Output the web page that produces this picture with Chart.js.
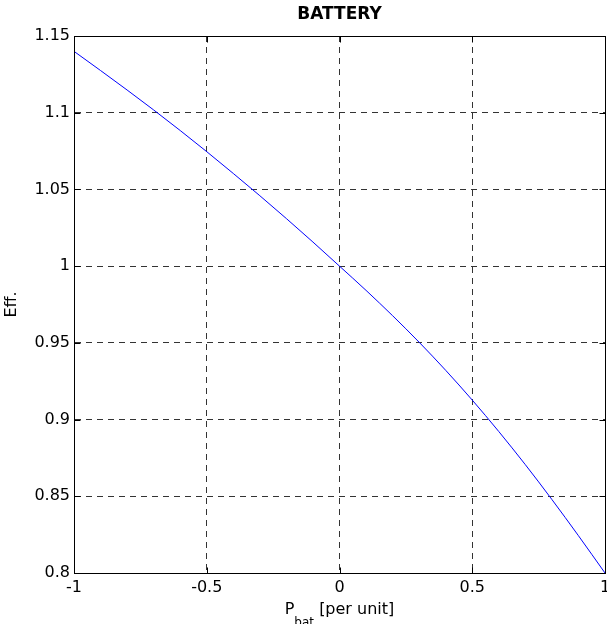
<!doctype html>
<html lang="en">
<head>
<meta charset="utf-8" />
<title>BATTERY</title>
<script src="https://cdn.jsdelivr.net/npm/chart.js@4"></script>
<style>
  html, body { margin: 0; padding: 0; background: #fff; }
</style>
</head>
<body>
<canvas id="chart" width="607" height="624"></canvas>
<script>
// values
const pBat = [-1, -0.9, -0.8, -0.7, -0.6, -0.5, -0.4, -0.3, -0.2, -0.1, 0,
              0.1, 0.2, 0.3, 0.4, 0.5, 0.6, 0.7, 0.8, 0.9, 1];
const eff = [1.1400, 1.1275, 1.1148, 1.1018, 1.0884, 1.0746, 1.0604, 1.0459, 1.0310, 1.0157, 1.0000,
             0.9842, 0.9677, 0.9504, 0.9321, 0.9127, 0.8922, 0.8706, 0.8479, 0.8243, 0.8000];

const xTicks = [-1, -0.5, 0, 0.5, 1];
const xTickLabels = ["-1", "-0.5", "0", "0.5", "1"];
const yTicks = [0.8, 0.85, 0.9, 0.95, 1, 1.05, 1.1, 1.15];
const yTickLabels = ["0.8", "0.85", "0.9", "0.95", "1", "1.05", "1.1", "1.15"];

const FONT = "'DejaVu Sans', sans-serif";

// top/right box edges and MATLAB-style inward tick marks
const frame = {
  id: "frame",
  afterDatasetsDraw(chart) {
    const { ctx, chartArea: a, scales: { x, y } } = chart;
    const L = Math.round(a.left) + 0.5, R = Math.round(a.right) + 0.5;
    const T = Math.round(a.top) + 0.5, B = Math.round(a.bottom) + 0.5;
    ctx.save();
    ctx.strokeStyle = "#000";
    ctx.lineWidth = 1;
    ctx.setLineDash([]);
    ctx.beginPath();
    ctx.moveTo(L, B); ctx.lineTo(L, T); ctx.lineTo(R, T); ctx.lineTo(R, B); ctx.lineTo(L, B);
    for (const v of xTicks) {
      const px = Math.round(x.getPixelForValue(v)) + 0.5;
      ctx.moveTo(px, B); ctx.lineTo(px, B - 6);
      ctx.moveTo(px, T); ctx.lineTo(px, T + 6);
    }
    for (const v of yTicks) {
      const py = Math.round(y.getPixelForValue(v)) + 0.5;
      ctx.moveTo(L, py); ctx.lineTo(L + 6, py);
      ctx.moveTo(R, py); ctx.lineTo(R - 6, py);
    }
    ctx.stroke();
    ctx.restore();
  },
  afterDraw(chart) {
    // x axis label with subscript: P_bat [per unit]
    const { ctx, chartArea: a } = chart;
    ctx.save();
    ctx.fillStyle = "#000";
    ctx.textBaseline = "alphabetic";
    const big = "16px " + FONT, small = "12px " + FONT;
    ctx.font = big; const w1 = ctx.measureText("P").width; const w3 = ctx.measureText(" [per unit]").width;
    ctx.font = small; const w2 = ctx.measureText("bat").width;
    let xx = (a.left + a.right) / 2 - (w1 + w2 + w3) / 2;
    const base = 614;
    ctx.font = big; ctx.fillText("P", xx, base); xx += w1;
    ctx.font = small; ctx.fillText("bat", xx, base + 11.5); xx += w2;
    ctx.font = big; ctx.fillText(" [per unit]", xx, base);
    ctx.restore();
  },
};

new Chart(document.getElementById("chart"), {
  type: "line",
  data: {
    datasets: [{
      data: pBat.map((p, i) => ({ x: p, y: eff[i] })),
      borderColor: "#0000ff",
      borderWidth: 1,
      pointRadius: 0,
      cubicInterpolationMode: "monotone",
      fill: false,
    }],
  },
  options: {
    responsive: false,
    animation: false,
    devicePixelRatio: 1,
    layout: { padding: { left: 0, right: 2, top: 0, bottom: 0 } },
    plugins: {
      legend: { display: false },
      tooltip: { enabled: false },
      title: {
        display: true,
        text: "BATTERY",
        fullSize: false,
        color: "#000",
        font: { family: FONT, size: 17, weight: "bold", lineHeight: 1.2 },
        padding: { top: 4.8, bottom: 10.8 },
      },
    },
    scales: {
      x: {
        type: "linear",
        min: -1, max: 1,
        afterBuildTicks: (s) => { s.ticks = xTicks.map((v) => ({ value: v })); },
        afterFit: (s) => { s.height = 51; s.paddingLeft = 0; s.paddingRight = 0; },
        ticks: {
          color: "#000",
          padding: 5,
          maxRotation: 0,
          font: { family: FONT, size: 16 },
          callback: (v, i) => xTickLabels[i],
        },
        grid: { color: "#333", lineWidth: 1, drawTicks: false },
        border: { color: "#000", width: 1, dash: [6, 5] },
      },
      y: {
        type: "linear",
        min: 0.8, max: 1.15,
        afterBuildTicks: (s) => { s.ticks = yTicks.map((v) => ({ value: v })); },
        afterFit: (s) => { s.width = 74; s.paddingTop = 0; s.paddingBottom = 0; },
        ticks: {
          color: "#000",
          padding: 4,
          font: { family: FONT, size: 16 },
          callback: (v, i) => yTickLabels[i],
        },
        grid: { color: "#333", lineWidth: 1, drawTicks: false },
        border: { color: "#000", width: 1, dash: [6, 5] },
        title: {
          display: true,
          text: "Eff.",
          color: "#000",
          font: { family: FONT, size: 16, lineHeight: 1.2 },
          padding: { top: 2.5, bottom: 0 },
        },
      },
    },
  },
  plugins: [frame],
});
</script>
</body>
</html>
